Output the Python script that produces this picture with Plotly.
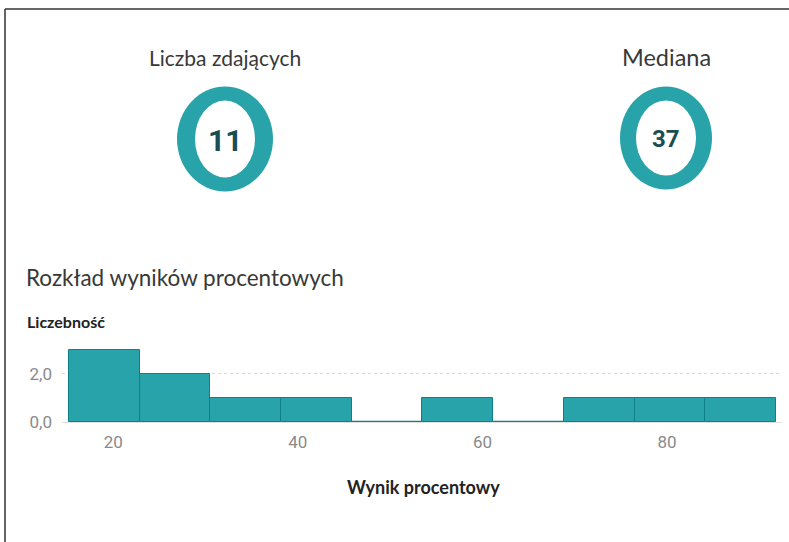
import plotly.graph_objects as go

# ---- data ----
kpi_labels = ["Liczba zdających", "Mediana"]
kpi_values = [11, 37]
bin_edges = [15.2, 22.86, 30.52, 38.18, 45.84, 53.5, 61.16, 68.82, 76.48, 84.14, 91.8]
counts = [3, 2, 1, 1, 0, 1, 0, 1, 1, 1]
x_ticks = [20, 40, 60, 80]
y_ticks = [0, 2]
y_tick_labels = ["0,0", "2,0"]

W, H = 789, 542
def px(x):
    return x / W
def py(y):
    return 1 - y / H

TEAL = "#27a3a9"
TEAL_LINE = "#0d8088"

centers = [(bin_edges[i] + bin_edges[i + 1]) / 2 for i in range(len(counts))]
widths = [bin_edges[i + 1] - bin_edges[i] for i in range(len(counts))]

fig = go.Figure()
fig.add_trace(go.Bar(
    x=centers, y=counts, width=widths,
    marker=dict(color=TEAL, line=dict(color=TEAL_LINE, width=1)),
    hoverinfo="skip", showlegend=False,
))
# zero-count bins drawn as a flat line
zx, zy = [], []
for i, c in enumerate(counts):
    if c == 0:
        zx += [bin_edges[i], bin_edges[i + 1], None]
        zy += [c, c, None]
fig.add_trace(go.Scatter(x=zx, y=zy, mode="lines",
                         line=dict(color=TEAL_LINE, width=2.5),
                         hoverinfo="skip", showlegend=False))

shapes = []
annotations = []
# frame lines
shapes.append(dict(type="line", xref="paper", yref="paper",
                   x0=px(5), x1=px(789), y0=py(9), y1=py(9),
                   line=dict(color="#333", width=1.5)))
shapes.append(dict(type="line", xref="paper", yref="paper",
                   x0=px(5), x1=px(5), y0=py(9), y1=py(542),
                   line=dict(color="#333", width=1.5)))

# KPI donuts
kpi_layout = [
    dict(cx=225, cy=139, ow=96, oh=105, iw=60, ih=77, ts=21, ns=30, ty=57),
    dict(cx=666, cy=138, ow=92, oh=103, iw=60, ih=75, ts=23.5, ns=24, ty=57),
]
for lab, val, g in zip(kpi_labels, kpi_values, kpi_layout):
    shapes.append(dict(type="circle", xref="paper", yref="paper",
                       x0=px(g["cx"] - g["ow"] / 2), x1=px(g["cx"] + g["ow"] / 2),
                       y0=py(g["cy"] + g["oh"] / 2), y1=py(g["cy"] - g["oh"] / 2),
                       fillcolor=TEAL, line=dict(width=0)))
    shapes.append(dict(type="circle", xref="paper", yref="paper",
                       x0=px(g["cx"] - g["iw"] / 2), x1=px(g["cx"] + g["iw"] / 2),
                       y0=py(g["cy"] + g["ih"] / 2), y1=py(g["cy"] - g["ih"] / 2),
                       fillcolor="white", line=dict(width=0)))
    annotations.append(dict(text=lab, xref="paper", yref="paper",
                            x=px(g["cx"]), y=py(g["ty"]), showarrow=False,
                            xanchor="center", yanchor="middle",
                            font=dict(family="Lato", size=g["ts"], color="#383838")))
    annotations.append(dict(text=f"<b>{val}</b>", xref="paper", yref="paper",
                            x=px(g["cx"]), y=py(g["cy"] + 1), showarrow=False,
                            xanchor="center", yanchor="middle",
                            font=dict(family="Roboto", size=g["ns"], color="#1b4d55")))

annotations.append(dict(text="Rozkład wyników procentowych", xref="paper", yref="paper",
                        x=px(24), y=py(277), showarrow=False, xanchor="left", yanchor="middle",
                        font=dict(family="Lato", size=22.5, color="#383838")))
annotations.append(dict(text="<b>Liczebność</b>", xref="paper", yref="paper",
                        x=px(25), y=py(322), showarrow=False, xanchor="left", yanchor="middle",
                        font=dict(family="Lato", size=16, color="#222")))
annotations.append(dict(text="<b>Wynik procentowy</b>", xref="paper", yref="paper",
                        x=px(423), y=py(487), showarrow=False, xanchor="center", yanchor="middle",
                        font=dict(family="Lato", size=18, color="#222")))

fig.update_layout(
    width=W, height=H, autosize=False,
    margin=dict(l=0, r=0, t=0, b=0, pad=0, autoexpand=False),
    paper_bgcolor="white", plot_bgcolor="white",
    bargap=0, showlegend=False,
    shapes=shapes, annotations=annotations,
    xaxis=dict(domain=[px(62), px(782)], range=[14.45, 92.45], automargin=False,
               tickvals=x_ticks, ticks="", showgrid=False, zeroline=False,
               showline=False, ticklabelstandoff=8,
               tickfont=dict(family="Roboto", size=17, color="#8a8a8a")),
    yaxis=dict(domain=[py(422), py(345)], range=[0, 3.2], automargin=False,
               tickvals=y_ticks, ticktext=y_tick_labels, ticks="",
               showgrid=True, gridcolor="#d8d8d8", griddash="dot", gridwidth=1,
               zeroline=True, zerolinecolor="#e0e0e0", zerolinewidth=1,
               tickfont=dict(family="Roboto", size=17, color="#8a8a8a"),
               ticklabelstandoff=9),
)

fig.write_html("out.html",
               config={"responsive": False, "displayModeBar": False},
               post_script="document.body.style.margin='0';document.body.style.overflow='hidden';")
